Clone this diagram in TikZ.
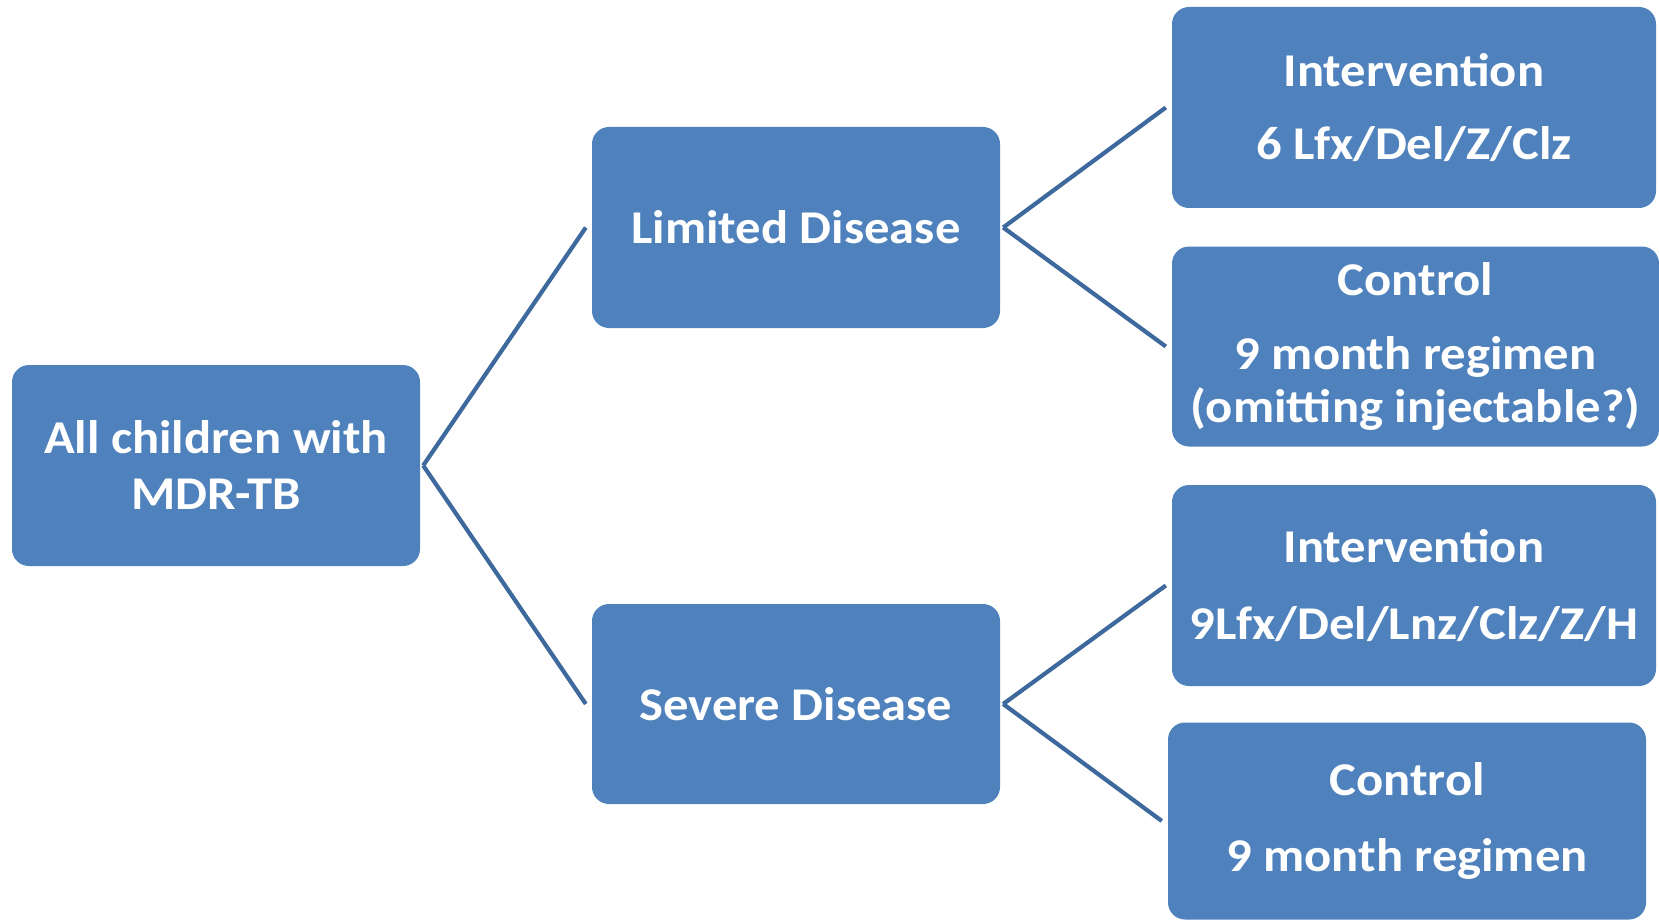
\documentclass[tikz,border=0pt]{standalone}
\usepackage{fontspec}
\setmainfont{Carlito}[FakeStretch=1.077]
\definecolor{boxblue}{RGB}{79,129,189}
\definecolor{linkblue}{RGB}{62,105,157}
\begin{document}
\begin{tikzpicture}[x=1pt,y=-1pt,
  box/.style={rectangle, rounded corners=17pt, fill=boxblue, text=white,
    inner sep=0pt, align=center,
    font=\fontsize{47}{56}\selectfont\bfseries},
  link/.style={draw=linkblue, line width=4.2pt}]
\useasboundingbox (0,0) rectangle (1659,920);

% first level
\node[box, minimum width=408pt, minimum height=201pt] (root) at (216,465.5)
  {All children with\\MDR-TB};

% second level
\node[box, minimum width=408pt, minimum height=201pt] (lim) at (796,227.5)
  {Limited Disease};
\node[box, minimum width=408pt, minimum height=200pt] (sev) at (796,704)
  {Severe Disease};

% third level
\node[box, minimum width=484pt, minimum height=201pt] (int1) at (1414,107.5)
  {Intervention\\[17pt]6 Lfx/Del/Z/Clz};
\node[box, minimum width=487pt, minimum height=200pt,
  font=\fontsize{47}{53}\selectfont\bfseries] (ctl1) at (1415.5,346.5)
  {Control\\[21pt]9 month regimen\\(omitting injectable?)};
\node[box, minimum width=484pt, minimum height=201pt] (int2) at (1414,585.5)
  {Intervention\\[21pt]9Lfx/Del/Lnz/Clz/Z/H};
\node[box, minimum width=478pt, minimum height=197pt] (ctl2) at (1407,821)
  {Control\\[20pt]9 month regimen};

% connectors
\draw[link] ([xshift=3pt]root.east) -- ([xshift=-6pt]lim.west);
\draw[link] ([xshift=3pt]root.east) -- ([xshift=-6pt]sev.west);
\draw[link] ([xshift=3pt]lim.east) -- ([xshift=-6pt]int1.west);
\draw[link] ([xshift=3pt]lim.east) -- ([xshift=-6pt]ctl1.west);
\draw[link] ([xshift=3pt]sev.east) -- ([xshift=-6pt]int2.west);
\draw[link] ([xshift=3pt]sev.east) -- ([xshift=-6pt]ctl2.west);
\end{tikzpicture}
\end{document}
